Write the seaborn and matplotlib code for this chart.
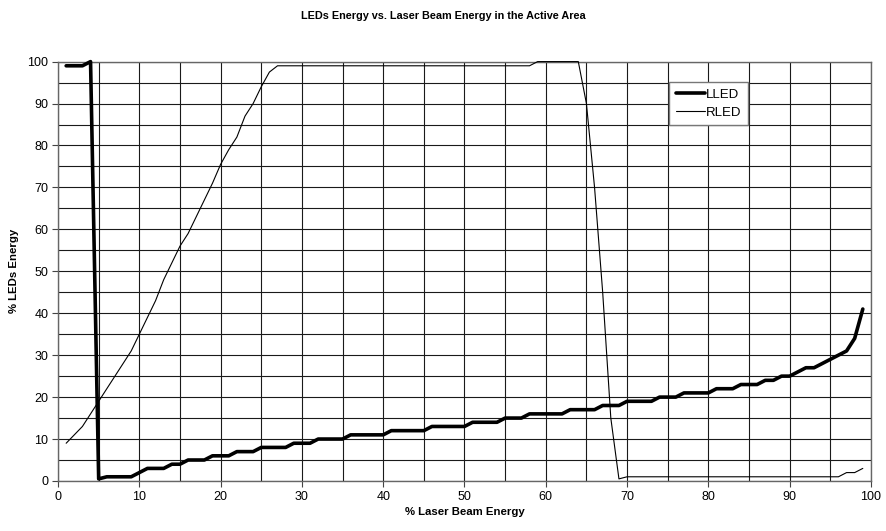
import matplotlib
matplotlib.use("Agg")
import matplotlib.pyplot as plt
import seaborn as sns
import pandas as pd
import numpy as np

x_vals = list(range(1, 100))

lled = [99, 99, 99, 100, 0.5, 1, 1, 1, 1, 2,
        3, 3, 3, 4, 4, 5, 5, 5, 6, 6,
        6, 7, 7, 7, 8, 8, 8, 8, 9, 9,
        9, 10, 10, 10, 10, 11, 11, 11, 11, 11,
        12, 12, 12, 12, 12, 13, 13, 13, 13, 13,
        14, 14, 14, 14, 15, 15, 15, 16, 16, 16,
        16, 16, 17, 17, 17, 17, 18, 18, 18, 19,
        19, 19, 19, 20, 20, 20, 21, 21, 21, 21,
        22, 22, 22, 23, 23, 23, 24, 24, 25, 25,
        26, 27, 27, 28, 29, 30, 31, 34, 41]

rled = [9, 11, 13, 16, 19, 22, 25, 28, 31, 35,
        39, 43, 48, 52, 56, 59, 63, 67, 71, 75.5,
        79, 82, 87, 90, 94, 97.5, 99, 99, 99, 99,
        99, 99, 99, 99, 99, 99, 99, 99, 99, 99,
        99, 99, 99, 99, 99, 99, 99, 99, 99, 99,
        99, 99, 99, 99, 99, 99, 99, 99, 100, 100,
        100, 100, 100, 100, 90, 70, 45, 15, 0.5, 1,
        1, 1, 1, 1, 1, 1, 1, 1, 1, 1,
        1, 1, 1, 1, 1, 1, 1, 1, 1, 1,
        1, 1, 1, 1, 1, 1, 2, 2, 3]

series_names = ["LLED", "RLED"]
title = "LEDs Energy vs. Laser Beam Energy in the Active Area"
xlabel = "% Laser Beam Energy"
ylabel = "% LEDs Energy"

sns.set_theme(style="white")
plt.rcParams['font.family'] = ['Liberation Sans', 'DejaVu Sans']
plt.rcParams['text.color'] = 'black'
plt.rcParams['axes.labelcolor'] = 'black'
plt.rcParams['xtick.color'] = 'black'
plt.rcParams['ytick.color'] = 'black'

df = pd.DataFrame({"x": x_vals, "LLED": lled, "RLED": rled})

fig = plt.figure(figsize=(8.86, 5.31), dpi=100)
ax = fig.add_axes([0.0655, 0.0942, 0.9175, 0.7898])

sns.lineplot(data=df, x="x", y="LLED", ax=ax, color="black", linewidth=2.6,
             label=series_names[0], zorder=3, clip_on=False)
sns.lineplot(data=df, x="x", y="RLED", ax=ax, color="black", linewidth=0.8,
             label=series_names[1], zorder=3, clip_on=False)

ax.set_xlim(0, 100)
ax.set_ylim(0, 100)
ax.set_xticks(np.arange(0, 101, 10))
ax.set_yticks(np.arange(0, 101, 10))
ax.set_xticks(np.arange(0, 101, 5), minor=True)
ax.set_yticks(np.arange(0, 101, 5), minor=True)
ax.grid(True, which="both", color="#1a1a1a", linewidth=0.8)
ax.tick_params(axis="both", which="major", labelsize=9, length=4, width=0.8,
               direction="out", color="#444444", labelcolor="black", pad=3)
ax.tick_params(axis="both", which="minor", length=0)
ax.tick_params(bottom=True, left=True)
for s in ax.spines.values():
    s.set_color("#666666")
    s.set_linewidth(1.0)

ax.set_xlabel(xlabel, fontsize=8.2, fontweight="bold", labelpad=3, color="black")
ax.set_ylabel(ylabel, fontsize=8.2, fontweight="bold", labelpad=6, color="black")
fig.suptitle(title, fontsize=7.8, fontweight="bold", y=0.98, color="black")

leg = ax.legend(loc="upper left", bbox_to_anchor=(0.752, 0.952), fontsize=9.5,
                frameon=True, fancybox=False, handlelength=2.2, handletextpad=0.05,
                borderpad=0.5, labelspacing=0.45, borderaxespad=0)
leg.get_frame().set_edgecolor("#777777")
leg.get_frame().set_linewidth(1.0)
leg.get_frame().set_alpha(1)
for t in leg.get_texts():
    t.set_color("black")

fig.savefig("out.png", dpi=100)
